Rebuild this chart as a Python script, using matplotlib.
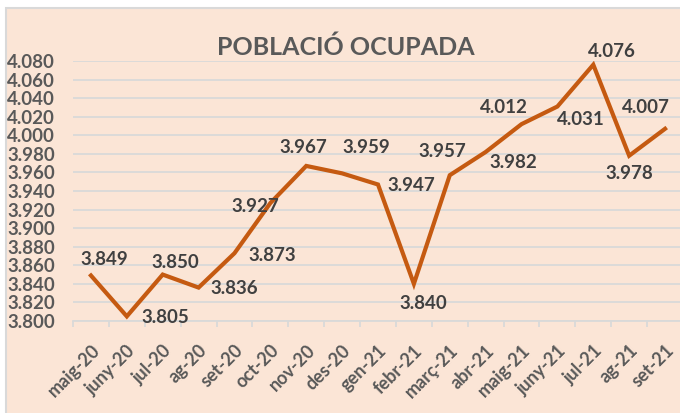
import matplotlib.pyplot as plt
from matplotlib.patches import Rectangle
from matplotlib.ticker import FuncFormatter, MultipleLocator
import numpy as np

plt.rcParams['font.family'] = ['Lato', 'DejaVu Sans']

# Data (thousands of people employed)
months = ['maig-20', 'juny-20', 'jul-20', 'ag-20', 'set-20', 'oct-20', 'nov-20',
          'des-20', 'gen-21', 'febr-21', 'març-21', 'abr-21', 'maig-21', 'juny-21',
          'jul-21', 'ag-21', 'set-21']
employed = [3849, 3805, 3850, 3836, 3873, 3927, 3967, 3959, 3947, 3840,
            3957, 3982, 4012, 4031, 4076, 3978, 4007]

# label offsets in pixels (dx, dy up)
label_offsets = [(13, 16), (38, -1), (13, 12), (36, -1), (38, -2), (-15, -3),
                 (-3, 18), (24, 26), (33, -1), (9, -20), (-7, 24), (28, -11),
                 (-18, 17), (23, -13), (19, 13), (0, -18), (-19, 21)]

bg = '#FBE5D6'
line_col = '#C55A11'
grid_col = '#D9D9D9'
text_col = '#404040'
tick_col = '#595959'

fig = plt.figure(figsize=(6.8, 4.13), dpi=100)
fig.patch.set_facecolor('white')
fig.patches.append(Rectangle((6 / 680, -0.1), 1.2, 1 - 8 / 413 + 0.1,
                             transform=fig.transFigure, facecolor=bg,
                             edgecolor=grid_col, linewidth=1.5, zorder=-5))

ax = fig.add_axes([73 / 680, 1 - 321 / 413, 610 / 680, 260 / 413])
ax.set_facecolor('none')

x = np.arange(len(months))
ax.plot(x, employed, color=line_col, linewidth=3.0, solid_joinstyle='miter', zorder=3)

for xi, v, (dx, dy) in zip(x, employed, label_offsets):
    lab = f"{v / 1000:.3f}"
    ax.annotate(lab, (xi, v), xytext=(dx * 0.72, dy * 0.72), textcoords='offset points',
                ha='center', va='center', fontsize=13.5, fontweight='bold', color=text_col,
                zorder=4)

ax.set_xlim(-0.5, len(months) - 0.5)
ax.set_ylim(3800, 4080)
ax.yaxis.set_major_locator(MultipleLocator(20))
ax.yaxis.set_major_formatter(FuncFormatter(lambda v, p: f"{v / 1000:.3f}"))
ax.grid(axis='y', color=grid_col, linewidth=1.3, zorder=1)

for s in ['top', 'right', 'left']:
    ax.spines[s].set_visible(False)
ax.spines['bottom'].set_color(grid_col)
ax.spines['bottom'].set_linewidth(1.3)

ax.set_xticks(x)
ax.set_xticklabels(months, rotation=45, ha='right', rotation_mode='anchor',
                   fontsize=13, fontweight='bold', color=tick_col)
ax.set_xticks(np.arange(-0.5, len(months), 1), minor=True)
ax.tick_params(axis='x', which='major', length=0, pad=15)
ax.tick_params(axis='x', which='minor', length=4, width=1.3, color=grid_col, direction='out')
ax.tick_params(axis='y', length=0, pad=13, labelsize=13.5, labelcolor=tick_col)
for t in ax.get_yticklabels():
    t.set_fontweight('bold')

fig.text(346 / 680, 1 - 47 / 413, 'POBLACIÓ OCUPADA', ha='center', va='center',
         fontsize=18, fontweight='bold', color=tick_col)

fig.savefig('out.png', dpi=100)
